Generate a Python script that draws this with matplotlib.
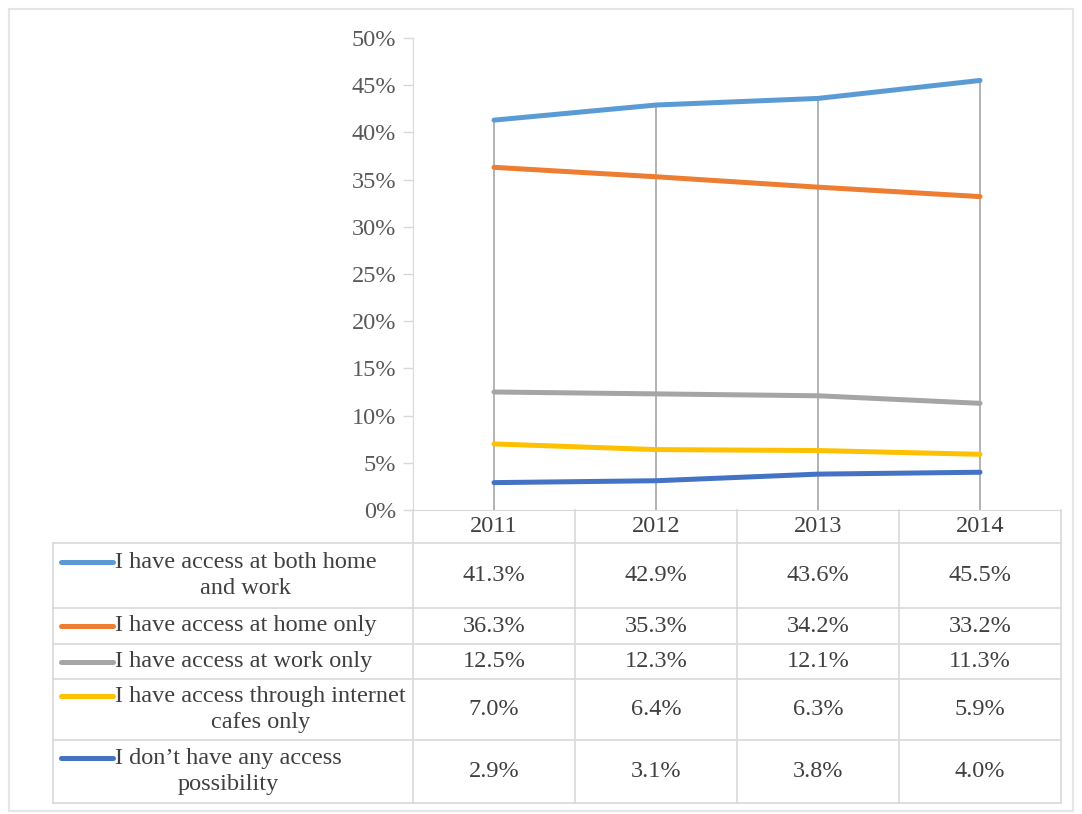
import matplotlib.pyplot as plt
from matplotlib.lines import Line2D
from matplotlib.patches import Rectangle

years = ["2011", "2012", "2013", "2014"]
labels = [
    "I have access at both home\nand work",
    "I have access at home only",
    "I have access at work only",
    "I have access through internet\ncafes only",
    "I don\u2019t have any access\npossibility",
]
both = [41.3, 42.9, 43.6, 45.5]
home = [36.3, 35.3, 34.2, 33.2]
work = [12.5, 12.3, 12.1, 11.3]
cafes = [7.0, 6.4, 6.3, 5.9]
no_access = [2.9, 3.1, 3.8, 4.0]
series = [both, home, work, cafes, no_access]
colors = ["#5B9BD5", "#ED7D31", "#A5A5A5", "#FFC000", "#4472C4"]

plt.rcParams['font.family'] = ['Liberation Serif', 'DejaVu Serif']
FS = 17.5
TXT = "#404040"
GRID = "#D9D9D9"

W, H = 1082, 814
fig = plt.figure(figsize=(W / 100, H / 100), dpi=100)

# pixel layout of the plot area / table
px_left, px_right, px_top, px_bottom = 413, 1061, 38, 510
ax = fig.add_axes([px_left / W, 1 - px_bottom / H,
                   (px_right - px_left) / W, (px_bottom - px_top) / H])

x = list(range(len(years)))
tops = [max(v) / 100 for v in zip(*series)]
ax.vlines(x, 0, tops, color="#A5A5A5", lw=1.2, zorder=1)
for vals, c in zip(series, colors):
    ax.plot(x, [v / 100 for v in vals], color=c, lw=3.6,
            solid_capstyle='round', zorder=3)

ax.set_xlim(-0.5, len(years) - 0.5)
ax.set_ylim(0, 0.5)
ax.set_yticks([i * 0.05 for i in range(11)])
ax.set_yticklabels([f"{i * 5}%" for i in range(11)], fontsize=FS, color="#595959")
ax.set_xticks([])
ax.tick_params(axis='y', length=7, color=GRID, width=1, pad=5)
for s in ["top", "right"]:
    ax.spines[s].set_visible(False)
ax.spines["left"].set_color(GRID)
ax.spines["bottom"].set_color(GRID)

# data table drawn on a pixel overlay
tab = fig.add_axes([0, 0, 1, 1])
tab.set_xlim(0, W)
tab.set_ylim(H, 0)
tab.axis("off")
tab.patch.set_alpha(0)

tab.add_patch(Rectangle((9, 9), 1064, 802, fill=False, ec="#E6E6E6", lw=1.5))

cols = [413, 575, 737, 899, 1061]
rows = [510, 543, 608, 644, 679, 740, 803]
legend_left = 53

for yy in rows[1:]:
    tab.add_line(Line2D([legend_left, cols[-1]], [yy, yy], color=GRID, lw=1.2))
tab.add_line(Line2D([legend_left, legend_left], [rows[1], rows[-1]], color=GRID, lw=1.2))
for xx in cols:
    tab.add_line(Line2D([xx, xx], [rows[0], rows[-1]], color=GRID, lw=1.2))

for j, yr in enumerate(years):
    cx = (cols[j] + cols[j + 1]) / 2
    tab.text(cx, (rows[0] + rows[1]) / 2, yr, ha="center", va="center",
             fontsize=FS, color=TXT)

for i, (lab, vals, c) in enumerate(zip(labels, series, colors)):
    y0, y1 = rows[i + 1], rows[i + 2]
    cy = (y0 + y1) / 2
    nlines = lab.count("\n") + 1
    key_y = cy - 14 if nlines > 1 else cy
    tab.add_line(Line2D([61, 113], [key_y, key_y], color=c, lw=3.6,
                        solid_capstyle='round'))
    tab.text(115, cy, lab, ha="left", va="center", multialignment="center",
             fontsize=FS, color=TXT, linespacing=1.35)
    for j, v in enumerate(vals):
        cx = (cols[j] + cols[j + 1]) / 2
        tab.text(cx, cy, f"{v:.1f}%", ha="center", va="center",
                 fontsize=FS, color=TXT)

fig.savefig("out.png", dpi=100, facecolor="white")
